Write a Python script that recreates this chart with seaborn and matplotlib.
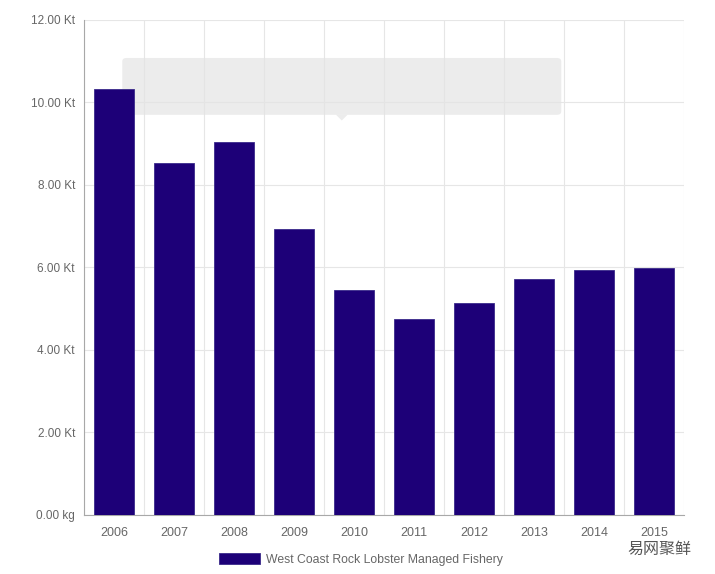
import numpy as np
import pandas as pd
import seaborn as sns
import matplotlib.pyplot as plt
from matplotlib.patches import FancyBboxPatch, Polygon
from matplotlib.ticker import FixedLocator, FuncFormatter

# data (kilotonnes)
years = ["2006", "2007", "2008", "2009", "2010", "2011", "2012", "2013", "2014", "2015"]
catch_kt = [10.33, 8.53, 9.03, 6.94, 5.46, 4.76, 5.14, 5.71, 5.94, 5.99]
series_name = "West Coast Rock Lobster Managed Fishery"
y_ticks = [0, 2, 4, 6, 8, 10, 12]

bar_color = "#1d0078"
text_color = "#666666"
axis_color = "#a8a8a8"
grid_color = "#e6e6e6"

df = pd.DataFrame({"year": years, "catch": catch_kt})

sns.set_style("white")
plt.rcParams["font.family"] = ["Liberation Sans", "DejaVu Sans"]

fig = plt.figure(figsize=(7.15, 5.74), dpi=100)
ax = fig.add_axes([0.1175, 0.1028, 0.8391, 0.8624])

sns.barplot(data=df, x="year", y="catch", color=bar_color, width=0.67,
            saturation=1, edgecolor="#3a2a8a", linewidth=0.6,
            label=series_name, ax=ax, zorder=3)
if ax.get_legend() is not None:
    ax.get_legend().remove()

ax.set_xlim(-0.5, len(years) - 0.5)
ax.set_ylim(0, 12)
ax.set_xlabel("")
ax.set_ylabel("")

# y axis
ax.yaxis.set_major_locator(FixedLocator(y_ticks))
ax.yaxis.set_major_formatter(FuncFormatter(
    lambda v, p: "0.00 kg" if v == 0 else f"{v:.2f} Kt"))
ax.tick_params(axis="y", length=4.5, width=0.8, color=axis_color,
               labelcolor=text_color, labelsize=8.5, pad=2)

# x axis: labels at centres, tick lines at the category boundaries
ax.xaxis.set_minor_locator(FixedLocator(np.arange(-0.5, len(years), 1.0)))
ax.tick_params(axis="x", which="major", length=0, labelcolor=text_color,
               labelsize=9, pad=9)
ax.tick_params(axis="x", which="minor", length=7.5, width=0.8, color="#d8d8d8")

ax.set_axisbelow(True)
ax.grid(axis="y", which="major", color=grid_color, linewidth=0.8)
ax.grid(axis="x", which="minor", color=grid_color, linewidth=0.8)

for side in ["top", "right"]:
    ax.spines[side].set_visible(False)
for side in ["left", "bottom"]:
    ax.spines[side].set_color(axis_color)
    ax.spines[side].set_linewidth(0.8)

# faded tooltip box left over from the web chart
tip = FancyBboxPatch((0.171, 0.800), 0.614, 0.099,
                     boxstyle="round,pad=0,rounding_size=0.006",
                     transform=fig.transFigure, facecolor="#e4e4e4",
                     edgecolor="none", alpha=0.7, zorder=2.5, clip_on=False)
ax.add_patch(tip)
arrow = Polygon([[0.470, 0.800], [0.486, 0.800], [0.478, 0.790]],
                closed=True, transform=fig.transFigure, facecolor="#e4e4e4",
                edgecolor="none", alpha=0.7, zorder=2.5, clip_on=False)
ax.add_patch(arrow)

# legend
handles, labels = ax.get_legend_handles_labels()
fig.legend(handles[:1], labels[:1], loc="center", bbox_to_anchor=(0.505, 0.026),
           frameon=False, handlelength=3.3, handleheight=1.1, handletextpad=0.5,
           fontsize=8.8, labelcolor=text_color)

# watermark
fig.text(0.878, 0.042, "易网聚鲜", fontsize=11.5, color="#555555",
         family=["Noto Sans CJK SC", "DejaVu Sans"], ha="left", va="center")

fig.savefig("out.png", dpi=100)
